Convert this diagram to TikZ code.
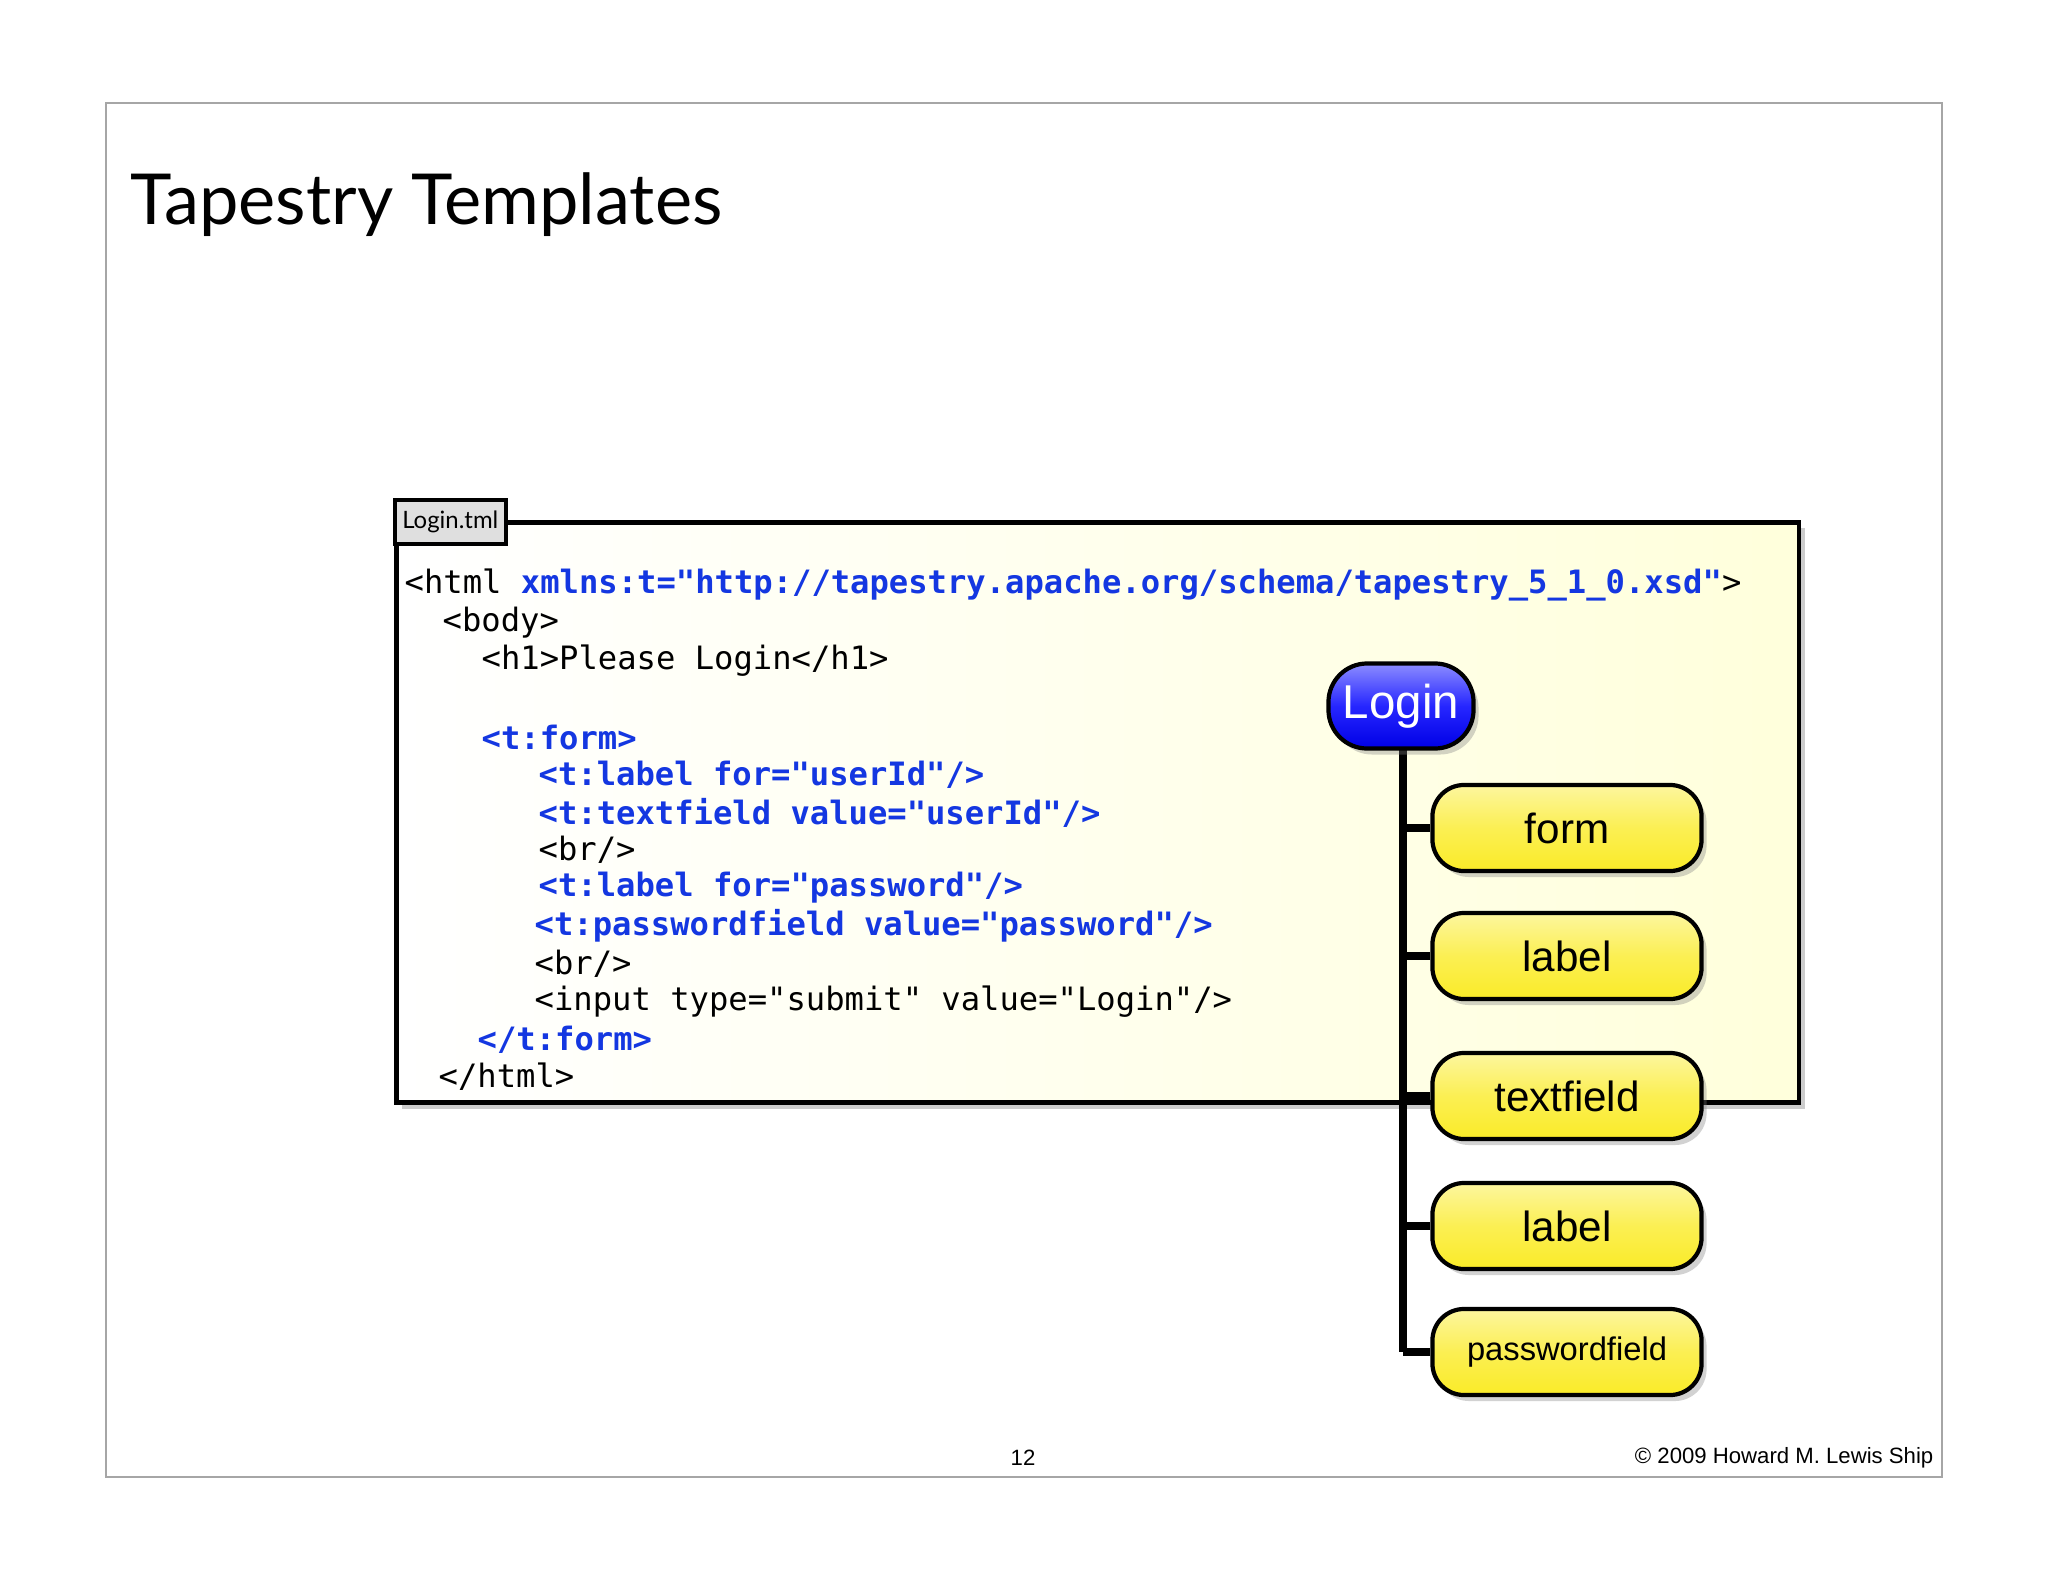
\documentclass[tikz,border=0pt]{standalone}
\usepackage{fontspec}
\setmainfont{Lato}
\setsansfont{Liberation Sans}
\setmonofont{DejaVu Sans Mono}
\usetikzlibrary{shadows}
\definecolor{codeblue}{RGB}{20,55,225}
\definecolor{nodeyel}{RGB}{250,235,40}
\tikzset{
  codeline/.style={anchor=west,inner sep=0pt,font=\ttfamily\fontsize{9.15}{10}\selectfont},
  treebox/.style={draw=black,line width=1.2pt,rounded corners=9pt,minimum width=2.69cm,minimum height=0.86cm,
    top color=nodeyel!45!white,bottom color=nodeyel,middle color=nodeyel!80!white,
    drop shadow={shadow xshift=0.05cm,shadow yshift=-0.06cm,opacity=0.35},
    font=\sffamily\fontsize{12}{14}\selectfont},
  branch/.style={line width=2.2pt,black}
}
\newcommand{\kb}[1]{\textcolor{codeblue}{\bfseries #1}}
\begin{document}
\begin{tikzpicture}[x=0.01cm,y=-0.01cm]
\useasboundingbox (0,0) rectangle (2048,1582);
\fill[white] (0,0) rectangle (2048,1582);
\draw[gray!70,line width=0.6pt] (106,103) rectangle (1942,1477);
\node[anchor=base west,inner sep=0pt,font=\fontsize{20}{24}\selectfont] (title) at (130,225) {Tapestry Templates};
% code box
\node[draw=black,line width=1.3pt,left color=white,right color=yellow!14,minimum width=14.02cm,minimum height=5.8cm,anchor=north west,inner sep=0pt,
  drop shadow={shadow xshift=0.06cm,shadow yshift=-0.06cm,opacity=0.4}] (box) at (394,520) {};
\node[draw=black,line width=1pt,fill=gray!25,minimum width=1.11cm,minimum height=0.44cm,anchor=north west,inner sep=0pt,font=\fontsize{6.8}{8}\selectfont] (tab) at (393,498) {Login.tml};
\node[codeline] (l1) at (404,585) {<html \kb{xmlns:t="http://tapestry.apache.org/schema/tapestry\_5\_1\_0.xsd"}>};
\node[codeline] (l2) at (442,623) {<body>};
\node[codeline] (l3) at (481,661) {<h1>Please Login</h1>};
\node[codeline] (l5) at (481,737) {\kb{<t:form>}};
\node[codeline] (l6) at (538,775) {\kb{<t:label for="userId"/>}};
\node[codeline] (l7) at (538,813) {\kb{<t:textfield value="userId"/>}};
\node[codeline] (l8) at (538,850) {<br/>};
\node[codeline] (l9) at (538,888) {\kb{<t:label for="password"/>}};
\node[codeline] (l10) at (534,926) {\kb{<t:passwordfield value="password"/>}};
\node[codeline] (l11) at (534,964) {<br/>};
\node[codeline] (l12) at (534,1002) {<input type="submit" value="Login"/>};
\node[codeline] (l13) at (477,1040) {\kb{</t:form>}};
\node[codeline] (l14) at (438,1077) {</html>};
% tree
\coordinate (top) at (1403,748);
\coordinate (bot) at (1403,1352);
\draw[branch] (top) -- (bot);
\node[draw=black,line width=1.2pt,rounded corners=11pt,minimum width=1.45cm,minimum height=0.85cm,
  top color=blue!45!white,bottom color=blue!90!black,middle color=blue!85!white,text=white,
  drop shadow={shadow xshift=0.05cm,shadow yshift=-0.06cm,opacity=0.35},
  font=\sffamily\fontsize{13.5}{16}\selectfont] (login) at (1401,706) {Login};
\node[treebox] (n1) at (1567,828) {form};
\node[treebox] (n2) at (1567,956) {label};
\node[treebox] (n3) at (1567,1096) {textfield};
\node[treebox] (n4) at (1567,1226) {label};
\node[treebox,font=\sffamily\fontsize{9.3}{11}\selectfont] (n5) at (1567,1352) {passwordfield};
\foreach \n in {n1,n2,n3,n4,n5}{\draw[branch] (\n.west) -- (top|-\n.west);}
% footer
\node[font=\sffamily\fontsize{6.3}{8}\selectfont,inner sep=0pt] (pg) at (1023,1458) {12};
\node[font=\sffamily\fontsize{6.3}{8}\selectfont,inner sep=0pt,anchor=east] (cp) at (1934,1458) {© 2009 Howard M. Lewis Ship};
\end{tikzpicture}
\end{document}
